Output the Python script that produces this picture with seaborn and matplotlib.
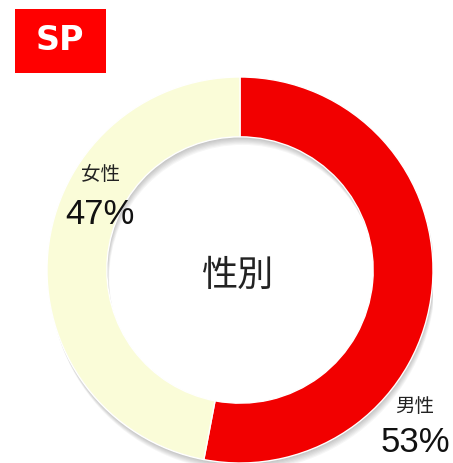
import matplotlib
matplotlib.use("Agg")
import matplotlib.pyplot as plt
import seaborn as sns
from matplotlib.patches import Rectangle, Wedge

# chart data
categories = ["男性", "女性"]
shares = [53, 47]
colors = ["#F20000", "#FAFCD8"]
center_title = "性別"
badge_text = "SP"

sns.set_theme(style="white")
plt.rcParams["font.family"] = ["Noto Sans CJK JP", "DejaVu Sans"]

W, H = 453, 463
fig = plt.figure(figsize=(W / 100, H / 100), dpi=100)

# donut: center (240, 270) px from top-left, radius 193 px
cx, cy, r = 240, 270, 193
ring = 0.31
ax = fig.add_axes([(cx - r) / W, (H - cy - r) / H, 2 * r / W, 2 * r / H])

# soft drop shadow under the ring
for k in range(1, 8):
    off = k * 0.006
    ax.add_patch(Wedge((off * 0.3, -off), 1.0, 0, 360, width=ring,
                       facecolor="black", edgecolor="none", alpha=0.035, zorder=0))

wedges, _ = ax.pie(
    shares,
    colors=colors,
    startangle=90,
    counterclock=False,
    radius=1.0,
    wedgeprops=dict(width=ring, edgecolor="white", linewidth=1.0, zorder=2),
)
ax.set_xlim(-1, 1)
ax.set_ylim(-1, 1)
ax.set_aspect("equal")
ax.axis("off")

ax.text(-0.01, -0.03, center_title, ha="center", va="center", fontsize=26, color="#222222")

# labels: 男性 at lower right, 女性 at upper left
label_pos = {"男性": (415, 407, 443), "女性": (100, 175, 215)}
for name, val in zip(categories, shares):
    x, y1, y2 = label_pos[name]
    fig.text(x / W, 1 - y1 / H, name, ha="center", va="center", fontsize=14, color="#222222")
    fig.text(x / W, 1 - y2 / H, f"{val}%", ha="center", va="center", fontsize=25, color="#111111",
             family=["Liberation Sans", "DejaVu Sans"])

# red badge
fig.patches.append(Rectangle((15 / W, 1 - 73 / H), 91 / W, 64 / H,
                             transform=fig.transFigure, facecolor="#FF0000",
                             edgecolor="none", zorder=5))
fig.text(60 / W, 1 - 41 / H, badge_text, ha="center", va="center", fontsize=24,
         fontweight="bold", color="white", zorder=6, family=["DejaVu Sans"])

fig.savefig("out.png", dpi=100)
